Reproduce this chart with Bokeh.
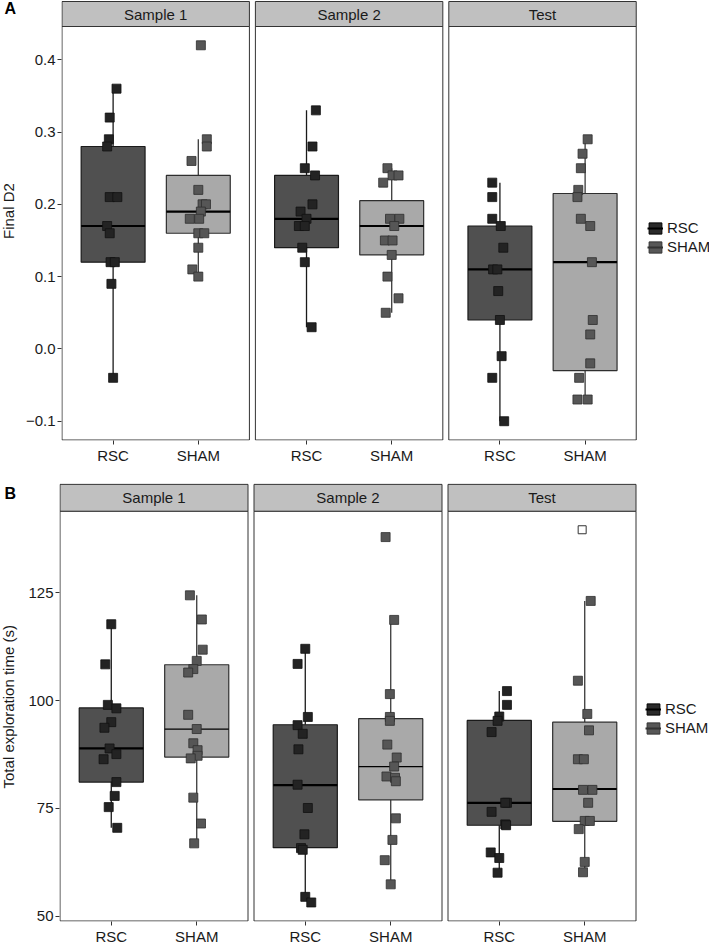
import math
from bokeh.plotting import figure
from bokeh.models import (Range1d, FixedTicker, Legend, LegendItem,
                          ColumnDataSource, CustomJSTickFormatter)
from bokeh.layouts import column, row
from bokeh.embed import file_html
from bokeh.resources import INLINE
from bokeh.core.properties import value

# ---------------- data ----------------
facets = ["Sample 1", "Sample 2", "Test"]
groups = ["RSC", "SHAM"]

# Panel A : Final D2  (order: facet x group)
d2_s1_rsc = [0.36, 0.32, 0.29, 0.28, 0.21, 0.21, 0.17, 0.16, 0.12, 0.12, 0.09, -0.04]
d2_s1_rsc_jit = [0.04, -0.04, -0.05, -0.07, -0.04, 0.05, -0.07, -0.04, -0.03, 0.02, -0.02, 0.0]
d2_s1_sham = [0.42, 0.29, 0.28, 0.26, 0.22, 0.20, 0.20, 0.19, 0.18, 0.18, 0.16, 0.16, 0.14, 0.11, 0.10]
d2_s1_sham_jit = [0.03, 0.10, 0.10, -0.08, 0.0, 0.05, 0.09, 0.03, -0.10, 0.01, 0.0, 0.07, 0.0, -0.07, 0.0]
d2_s2_rsc = [0.33, 0.28, 0.25, 0.24, 0.20, 0.19, 0.18, 0.17, 0.17, 0.14, 0.12, 0.03]
d2_s2_rsc_jit = [0.11, 0.07, -0.02, 0.10, 0.07, -0.07, 0.0, -0.09, -0.02, -0.05, -0.02, 0.06]
d2_s2_sham = [0.25, 0.24, 0.24, 0.23, 0.18, 0.18, 0.17, 0.15, 0.15, 0.13, 0.10, 0.07, 0.05]
d2_s2_sham_jit = [-0.05, 0.01, 0.08, -0.10, -0.02, 0.09, 0.03, -0.08, 0.01, 0.0, -0.05, 0.08, -0.07]
d2_t_rsc = [0.23, 0.21, 0.18, 0.17, 0.14, 0.11, 0.11, 0.08, 0.04, -0.01, -0.04, -0.10]
d2_t_rsc_jit = [-0.09, -0.09, -0.09, 0.01, 0.04, -0.08, -0.03, -0.02, 0.0, 0.02, -0.09, 0.05]
d2_t_sham = [0.29, 0.27, 0.25, 0.22, 0.21, 0.18, 0.17, 0.12, 0.04, 0.02, -0.02, -0.04, -0.07, -0.07]
d2_t_sham_jit = [0.03, -0.03, -0.05, -0.08, -0.09, -0.05, 0.06, 0.08, 0.09, 0.06, 0.06, -0.07, -0.09, 0.03]

d2_wlo = [-0.04, 0.10, 0.03, 0.05, -0.10, -0.07]
d2_q1 = [0.12, 0.16, 0.14, 0.13, 0.04, -0.03]
d2_med = [0.17, 0.19, 0.18, 0.17, 0.11, 0.12]
d2_q3 = [0.28, 0.24, 0.24, 0.205, 0.17, 0.215]
d2_whi = [0.36, 0.29, 0.33, 0.25, 0.23, 0.29]

# Panel B : Total exploration time (s)
tt_s1_rsc = [117.7, 108.4, 99.0, 98.2, 95.0, 93.7, 88.9, 87.6, 86.4, 81.1, 77.9, 75.3, 70.5]
tt_s1_rsc_jit = [0.0, -0.07, -0.04, 0.06, 0.0, -0.08, -0.02, 0.06, -0.09, 0.06, 0.04, -0.03, 0.07]
tt_s1_sham = [124.4, 118.8, 111.8, 109.2, 107.3, 106.5, 96.7, 93.4, 90.1, 88.5, 87.2, 86.6, 77.5, 71.5, 66.9]
tt_s1_sham_jit = [-0.08, 0.06, 0.07, 0.0, -0.04, -0.10, -0.10, 0.0, -0.04, 0.01, 0.01, -0.07, -0.04, 0.05, -0.03]
tt_s2_rsc = [112.0, 108.5, 96.2, 94.3, 92.3, 88.7, 80.5, 75.1, 69.0, 65.8, 65.4, 54.5, 53.2]
tt_s2_rsc_jit = [0.0, -0.09, 0.03, -0.09, -0.03, -0.08, -0.09, 0.03, -0.01, -0.05, -0.03, 0.0, 0.07]
tt_s2_sham = [137.9, 118.7, 101.5, 96.2, 95.3, 89.8, 86.8, 84.7, 82.4, 82.1, 81.3, 72.7, 67.7, 63.0, 57.4]
tt_s2_sham_jit = [-0.06, 0.04, -0.01, -0.01, -0.01, -0.04, 0.07, 0.04, -0.05, 0.05, 0.06, 0.06, 0.02, -0.07, 0.0]
tt_t_rsc = [102.2, 99.0, 96.3, 95.3, 92.7, 76.3, 76.3, 74.2, 71.3, 71.1, 64.8, 63.5, 60.1]
tt_t_rsc_jit = [0.09, 0.09, 0.0, -0.02, -0.09, 0.09, 0.07, -0.09, 0.07, 0.08, -0.10, 0.0, -0.02]
tt_t_sham = [123.1, 104.6, 96.9, 93.1, 86.4, 86.4, 79.3, 79.3, 76.3, 72.1, 72.1, 70.2, 62.6, 60.2]
tt_t_sham_jit = [0.07, -0.08, 0.03, 0.05, -0.08, -0.01, -0.02, 0.09, 0.04, 0.0, 0.06, -0.07, 0.0, -0.02]

tt_wlo = [70.5, 66.9, 53.6, 57.4, 60.1, 60.2]
tt_q1 = [81.1, 86.9, 65.9, 77.0, 71.1, 72.0]
tt_med = [88.9, 93.4, 80.4, 84.7, 76.3, 79.5]
tt_q3 = [98.3, 108.3, 94.4, 95.8, 95.4, 95.0]
tt_whi = [117.7, 124.4, 112.0, 118.7, 102.2, 123.1]

tt_outlier = [139.6]          # hollow outlier square (Test, SHAM)
tt_outlier_jit = [-0.03]
tt_outlier_box = [5]

d2_ticks = [-0.1, 0.0, 0.1, 0.2, 0.3, 0.4]
d2_tick_labels = ["\u22120.1", "0.0", "0.1", "0.2", "0.3", "0.4"]
tt_ticks = [50, 75, 100, 125]
tt_tick_labels = ["50", "75", "100", "125"]

# ---------------- styling ----------------
FONT = "Liberation Sans"
FS = "15px"
SIDE = 22            # width of the narrow strip holding panel letter + y title
W = 709 - SIDE
LEFT = 59 - SIDE
FACET_PX = 188
GAP_PX = 6
PPU = FACET_PX / 2.2

box_fill = ["#505050", "#a9a9a9"]
box_line = ["#1a1a1a", "#2e2e2e"]
pt_fill = ["#232323", "#565656"]
pt_line = ["#111111", "#2e2e2e"]
wh_col = ["#1a1a1a", "#3a3a3a"]
key_fill = ["#2b2b2b", "#585858"]
key_line = ["#000000", "#333333"]


def side_panel(height, ytitle, title_y, letter, letter_y):
    s = figure(width=SIDE, height=height, output_backend="svg", toolbar_location=None,
               x_range=Range1d(0, SIDE), y_range=Range1d(0, height),
               x_axis_type=None, y_axis_type=None,
               min_border_left=0, min_border_right=0, min_border_top=0, min_border_bottom=0)
    s.outline_line_color = None
    s.grid.visible = False
    s.text(x=[8], y=[height - title_y], text=[ytitle], angle=math.pi / 2,
           text_font=value(FONT), text_font_size=FS, text_align="center",
           text_baseline="middle", text_color="#1a1a1a")
    s.text(x=[4], y=[height - letter_y], text=[letter], text_font=value(FONT),
           text_font_size="16px", text_font_style="bold", text_align="left",
           text_baseline="middle", text_color="#000000")
    return s


def make_panel(height, bottom, strip_top, plot_top, lo, hi, ticks, tick_labels,
               series, wlo, q1, med, q3, whi, med_w, legend_y, outliers=None):
    frame_h = height - bottom
    frame_w = W - LEFT
    span_px = (frame_h - 0.5) - plot_top
    upp = (hi - lo) / span_px
    y0 = lo - 0.5 * upp
    y1 = hi + plot_top * upp
    strip_hi = hi + (plot_top - strip_top) * upp
    x0 = -0.5 / PPU
    x1 = x0 + frame_w / PPU

    p = figure(width=W, height=height, output_backend="svg", toolbar_location=None,
               x_range=Range1d(x0, x1), y_range=Range1d(y0, y1),
               min_border_left=LEFT, min_border_right=0, min_border_top=0,
               min_border_bottom=bottom)
    p.outline_line_color = None
    p.grid.visible = False
    p.background_fill_color = "white"
    p.border_fill_color = "white"

    facet_start = [k * (FACET_PX + GAP_PX) / PPU for k in range(len(facets))]
    pos = []
    for k in range(len(facets)):
        for g in range(len(groups)):
            pos.append(facet_start[k] + 0.6 + g)

    for i, (vals, jit) in enumerate(series):
        g = i % 2
        c = pos[i]
        p.segment(x0=[c, c], y0=[q3[i], wlo[i]], x1=[c, c], y1=[whi[i], q1[i]],
                  line_color=wh_col[g], line_width=1.3)
        p.quad(left=[c - 0.375], right=[c + 0.375], bottom=[q1[i]], top=[q3[i]],
               fill_color=box_fill[g], line_color=box_line[g], line_width=1.2)
        p.segment(x0=[c - 0.375], y0=[med[i]], x1=[c + 0.375], y1=[med[i]],
                  line_color="#000000", line_width=med_w[i])
        src = ColumnDataSource(data=dict(x=[c + j for j in jit], y=vals))
        p.scatter(x="x", y="y", source=src, marker="square", size=9,
                  fill_color=pt_fill[g], line_color=pt_line[g], line_width=0.8)

    if outliers is not None:
        ov, oj, ob = outliers
        p.scatter(x=[pos[b] + j for b, j in zip(ob, oj)], y=ov, marker="square", size=8,
                  fill_color="white", line_color="#333333", line_width=1)

    fl = facet_start
    fr = [s + 2.2 for s in facet_start]
    p.quad(left=fl, right=fr, bottom=[lo] * 3, top=[hi] * 3,
           fill_color=None, line_color="#333333", line_width=1)
    p.quad(left=fl, right=fr, bottom=[hi] * 3, top=[strip_hi] * 3,
           fill_color="#c0c0c0", line_color="#333333", line_width=1)
    p.text(x=[s + 1.1 for s in facet_start], y=[(hi + strip_hi) / 2] * 3, text=facets,
           text_font=value(FONT), text_font_size=FS, text_align="center",
           text_baseline="middle", text_color="#1a1a1a")

    xa = p.xaxis[0]
    xa.ticker = FixedTicker(ticks=pos, minor_ticks=[])
    xa.formatter = CustomJSTickFormatter(args=dict(labels=[groups[i % 2] for i in range(6)]),
                                         code="return labels[index];")
    xa.axis_line_color = None
    xa.major_tick_line_color = "#333333"
    xa.major_tick_out = 4
    xa.major_tick_in = 0
    xa.minor_tick_line_color = None
    xa.major_label_standoff = 2
    xa.major_label_text_font = FONT
    xa.major_label_text_font_size = FS
    xa.major_label_text_color = "#1a1a1a"

    ya = p.yaxis[0]
    ya.ticker = FixedTicker(ticks=ticks, minor_ticks=[])
    ya.formatter = CustomJSTickFormatter(args=dict(labels=tick_labels),
                                         code="return labels[index];")
    ya.axis_line_color = None
    ya.major_tick_line_color = "#333333"
    ya.major_tick_out = 4
    ya.major_tick_in = 0
    ya.minor_tick_line_color = None
    ya.major_label_standoff = 2
    ya.major_label_text_font = FONT
    ya.major_label_text_font_size = FS
    ya.major_label_text_color = "#1a1a1a"

    items = []
    nan = float("nan")
    for g, name in enumerate(groups):
        rq = p.quad(left="x", right="x", bottom="y", top="y",
                    source=ColumnDataSource(data=dict(x=[nan], y=[nan])),
                    fill_color=key_fill[g], line_color=key_line[g], line_width=1)
        rl = p.line(x="x", y="y", source=ColumnDataSource(data=dict(x=[nan], y=[nan])),
                    line_color=key_line[g], line_width=2)
        items.append(LegendItem(label=name, renderers=[rq, rl]))
    leg = Legend(items=items, location=(645 - 59, legend_y), orientation="vertical",
                 padding=0, margin=0, spacing=2, glyph_width=16, glyph_height=14,
                 label_height=17, label_standoff=4, border_line_color=None,
                 background_fill_color=None, background_fill_alpha=0,
                 label_text_font=FONT, label_text_font_size=FS,
                 label_text_color="#1a1a1a")
    p.add_layout(leg, "center")
    return p


series_a = [(d2_s1_rsc, d2_s1_rsc_jit), (d2_s1_sham, d2_s1_sham_jit),
            (d2_s2_rsc, d2_s2_rsc_jit), (d2_s2_sham, d2_s2_sham_jit),
            (d2_t_rsc, d2_t_rsc_jit), (d2_t_sham, d2_t_sham_jit)]
series_b = [(tt_s1_rsc, tt_s1_rsc_jit), (tt_s1_sham, tt_s1_sham_jit),
            (tt_s2_rsc, tt_s2_rsc_jit), (tt_s2_sham, tt_s2_sham_jit),
            (tt_t_rsc, tt_t_rsc_jit), (tt_t_sham, tt_t_sham_jit)]

HA, HB = 466, 481

pA = make_panel(height=HA, bottom=26, strip_top=1, plot_top=26, lo=-0.126, hi=0.446,
                ticks=d2_ticks, tick_labels=d2_tick_labels,
                series=series_a, wlo=d2_wlo, q1=d2_q1, med=d2_med,
                q3=d2_q3, whi=d2_whi, med_w=[2.2] * 6, legend_y=185)
sA = side_panel(HA, "Final D2", 223, "A", 9)

pB = make_panel(height=HB, bottom=23, strip_top=18, plot_top=45, lo=48.9, hi=143.9,
                ticks=tt_ticks, tick_labels=tt_tick_labels,
                series=series_b, wlo=tt_wlo, q1=tt_q1, med=tt_med,
                q3=tt_q3, whi=tt_whi, med_w=[2.2, 1.2, 2.2, 1.2, 2.2, 2.2], legend_y=185,
                outliers=(tt_outlier, tt_outlier_jit, tt_outlier_box))
sB = side_panel(HB, "Total exploration time (s)", 254, "B", 29)

layout = column(row(sA, pA, spacing=0), row(sB, pB, spacing=0), spacing=0)
open("out.html", "w").write(file_html(layout, INLINE))
